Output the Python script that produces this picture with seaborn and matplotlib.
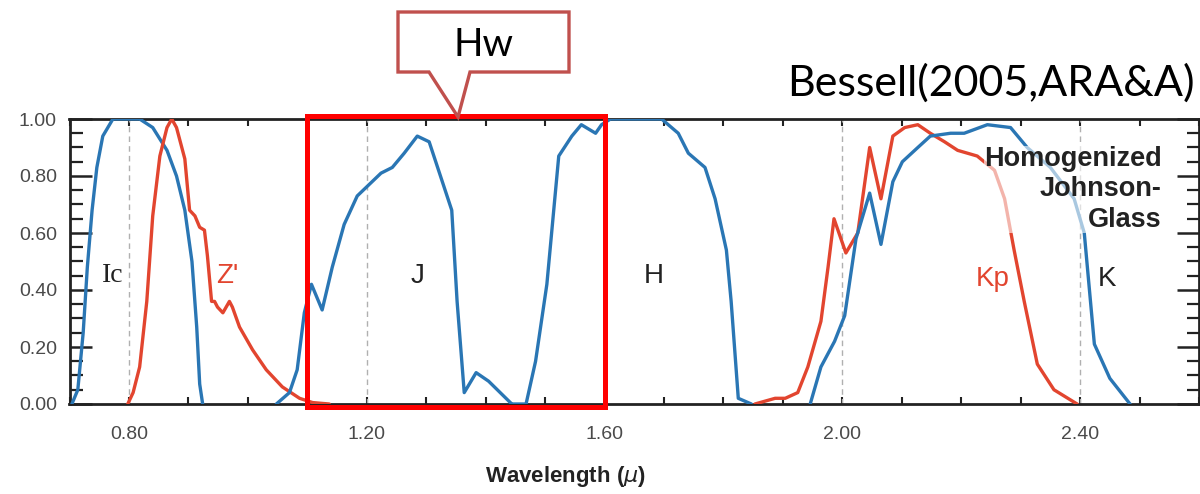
import numpy as np
import pandas as pd
import matplotlib
matplotlib.use("Agg")
import matplotlib.pyplot as plt
import seaborn as sns
from matplotlib.patches import Rectangle, Polygon
from matplotlib.ticker import FixedLocator, MultipleLocator

# ---------------- data ----------------
Ic_wl = [0.704, 0.714, 0.723, 0.730, 0.738, 0.746, 0.756, 0.773, 0.798, 0.818, 0.840,
         0.864, 0.880, 0.894, 0.906, 0.914, 0.919, 0.924]
Ic_tr = [0.00, 0.05, 0.25, 0.48, 0.68, 0.83, 0.94, 1.00, 1.00, 1.00, 0.97,
         0.89, 0.80, 0.68, 0.50, 0.27, 0.07, 0.00]

Z_wl = [0.798, 0.807, 0.818, 0.830, 0.840, 0.852, 0.864, 0.872, 0.880, 0.894, 0.902,
        0.911, 0.919, 0.927, 0.932, 0.939, 0.944, 0.949, 0.958, 0.969, 0.974, 0.986,
        1.008, 1.031, 1.058, 1.087, 1.109, 1.137]
Z_tr = [0.00, 0.04, 0.13, 0.36, 0.66, 0.87, 0.97, 1.00, 0.97, 0.86, 0.68,
        0.66, 0.62, 0.61, 0.52, 0.36, 0.36, 0.34, 0.32, 0.36, 0.34, 0.27,
        0.19, 0.12, 0.06, 0.02, 0.005, 0.00]

J_wl = [1.048, 1.070, 1.083, 1.095, 1.107, 1.125, 1.142, 1.162, 1.184, 1.204, 1.224,
        1.243, 1.263, 1.285, 1.305, 1.343, 1.352, 1.364, 1.384, 1.405, 1.444]
J_tr = [0.00, 0.04, 0.12, 0.32, 0.42, 0.33, 0.48, 0.63, 0.73, 0.77, 0.81,
        0.83, 0.88, 0.94, 0.92, 0.68, 0.36, 0.04, 0.11, 0.08, 0.00]

H_wl = [1.444, 1.468, 1.484, 1.503, 1.523, 1.545, 1.561, 1.585, 1.595, 1.610, 1.696,
        1.724, 1.741, 1.769, 1.786, 1.805, 1.813, 1.825, 1.847]
H_tr = [0.00, 0.00, 0.15, 0.42, 0.87, 0.94, 0.98, 0.95, 0.98, 1.00, 1.00,
        0.95, 0.88, 0.83, 0.72, 0.54, 0.36, 0.02, 0.00]

Kp_wl = [1.853, 1.870, 1.887, 1.904, 1.925, 1.942, 1.964, 1.976, 1.986, 2.006, 2.026,
         2.046, 2.065, 2.085, 2.105, 2.127, 2.148, 2.172, 2.194, 2.227, 2.256, 2.273,
         2.289, 2.306, 2.328, 2.356, 2.395]
Kp_tr = [0.00, 0.01, 0.02, 0.02, 0.04, 0.13, 0.29, 0.48, 0.65, 0.53, 0.60,
         0.90, 0.72, 0.94, 0.97, 0.98, 0.95, 0.92, 0.89, 0.87, 0.82, 0.72,
         0.54, 0.36, 0.14, 0.05, 0.00]

K_wl = [1.946, 1.964, 1.987, 2.004, 2.023, 2.046, 2.065, 2.085, 2.101, 2.127, 2.148,
        2.182, 2.205, 2.244, 2.283, 2.311, 2.350, 2.390, 2.407, 2.424, 2.450, 2.484]
K_tr = [0.00, 0.13, 0.22, 0.31, 0.58, 0.74, 0.56, 0.78, 0.85, 0.90, 0.94,
        0.95, 0.95, 0.98, 0.97, 0.90, 0.83, 0.72, 0.60, 0.21, 0.09, 0.00]

band_names = ["Ic", "Z'", "J", "H", "Kp", "K"]
band_label_x = [0.773, 0.966, 1.285, 1.682, 2.253, 2.445]
band_label_y = [0.45, 0.45, 0.45, 0.45, 0.44, 0.44]
dashed_x = [0.80, 1.20, 2.00, 2.40]
x_tick_vals = [0.80, 1.20, 1.60, 2.00, 2.40]
x_tick_labels = ["0.80", "1.20", "1.60", "2.00", "2.40"]
y_tick_vals = [0.0, 0.2, 0.4, 0.6, 0.8, 1.0]
y_tick_labels = ["0.00", "0.20", "0.40", "0.60", "0.80", "1.00"]
hw_band = (1.10, 1.60)

BLUE = "#2A76B4"
RED = "#E2452F"

# ---------------- style ----------------
sns.set_style("white")
plt.rcParams["font.family"] = ["Liberation Sans", "DejaVu Sans"]

W, H = 1200, 494
fig = plt.figure(figsize=(W / 100, H / 100), dpi=100)
ax = fig.add_axes([69.5 / W, 1 - 404 / H, (1199 - 69.5) / W, (404 - 119) / H])

bands = [("Ic", Ic_wl, Ic_tr, BLUE), ("Z'", Z_wl, Z_tr, RED),
         ("J", J_wl, J_tr, BLUE), ("H", H_wl, H_tr, BLUE),
         ("Kp", Kp_wl, Kp_tr, RED), ("K", K_wl, K_tr, BLUE)]

for xv in dashed_x:
    ax.axvline(xv, color="#b0b0b0", lw=1.0, ls=(0, (4, 3)), zorder=1)

for name, wl, tr, col in bands:
    df = pd.DataFrame({"wavelength": wl, "transmission": tr})
    sns.lineplot(data=df, x="wavelength", y="transmission", ax=ax, color=col,
                 lw=2.4, sort=False, estimator=None, zorder=3)

ax.set_xlim(0.70, 2.60)
ax.set_ylim(0.0, 1.0)
ax.set_xlabel("")
ax.set_ylabel("")

ax.xaxis.set_major_locator(FixedLocator(x_tick_vals))
ax.set_xticklabels(x_tick_labels)
ax.xaxis.set_minor_locator(MultipleLocator(0.1))
ax.yaxis.set_major_locator(FixedLocator(y_tick_vals))
ax.set_yticklabels(y_tick_labels)
ax.yaxis.set_minor_locator(MultipleLocator(0.05))

ax.tick_params(axis="x", which="both", direction="in", top=True, bottom=True,
               length=5, width=1.5, color="#222222")
ax.tick_params(axis="x", which="major", pad=16, labelsize=14, labelcolor="#4a4a4a")
ax.tick_params(axis="y", which="major", direction="in", left=True, right=True,
               length=16, width=1.8, color="#222222", pad=9, labelsize=14,
               labelcolor="#4a4a4a")
ax.tick_params(axis="y", which="minor", direction="in", left=True, right=True,
               length=9, width=1.6, color="#222222")
for sp in ax.spines.values():
    sp.set_color("#222222")
    sp.set_linewidth(2.0)

# band labels
for name, bx, by in zip(band_names, band_label_x, band_label_y):
    col = RED if name in ("Z'", "Kp") else "#222222"
    fam = ["Liberation Serif"] if name == "Ic" else ["Liberation Sans"]
    ax.text(bx, by, name, color=col, fontsize=20, ha="center", va="center",
            family=fam, zorder=5)

ax.text(2.537, 0.905, "Homogenized\nJohnson-\nGlass", ha="right", va="top",
        fontsize=19.5, fontweight="bold", color="#222222", linespacing=1.22,
        bbox=dict(facecolor="white", alpha=0.6, edgecolor="none", pad=0),
        zorder=4)

# red box highlighting Hw band
ax.add_patch(Rectangle((hw_band[0], -0.01), hw_band[1] - hw_band[0], 1.02,
                       fill=False, edgecolor="#FF0000", lw=3.6, clip_on=False,
                       zorder=6))

# x label
fig.text(565 / W, 1 - 476 / H, r"Wavelength ($\mu$)", ha="center", va="center",
         fontsize=16, fontweight="bold", color="#222222")

# callout "Hw"
pts = [(398, 12), (569, 12), (569, 72), (470, 72), (458, 117), (429, 72), (398, 72)]
fig.patches.append(Polygon([(x / W, 1 - y / H) for x, y in pts], closed=True,
                           transform=fig.transFigure, facecolor="white",
                           edgecolor="#C0504D", lw=2.4, joinstyle="miter",
                           zorder=10))
fig.text(483 / W, 1 - 45 / H, "Hw", ha="center", va="center", fontsize=28,
         family=["Lato", "DejaVu Sans"], color="black", zorder=11)

fig.text(1195 / W, 1 - 83 / H, "Bessell(2005,ARA&A)", ha="right", va="center",
         fontsize=31, family=["Lato", "DejaVu Sans"], color="black")

fig.savefig("out.png", dpi=100)
